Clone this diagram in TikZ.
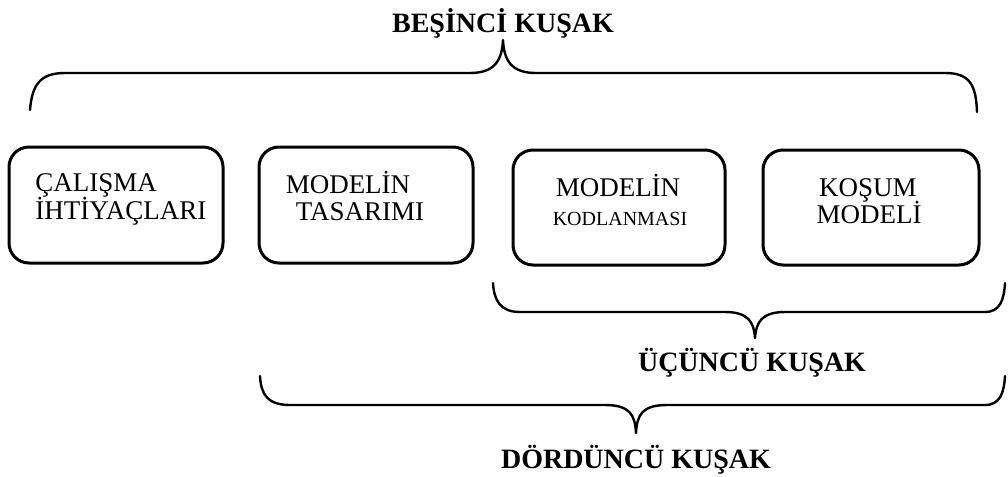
\documentclass[tikz,border=0pt]{standalone}
\usepackage{fontspec}
\setmainfont{Liberation Serif}
\begin{document}
\begin{tikzpicture}[x=0.5pt,y=-0.5pt,
  stage/.style={draw=black, line width=1.5pt, rounded corners=10pt},
  boxtext/.style={anchor=base, inner sep=0pt, font=\fontsize{13.5}{16}\selectfont},
  smalltext/.style={anchor=base, inner sep=0pt, font=\fontsize{10}{12}\selectfont},
  kusak/.style={anchor=base, inner sep=0pt, font=\bfseries\fontsize{14}{16}\selectfont},
  brace/.style={draw=black, line width=1.2pt, line cap=round, line join=round}]
\useasboundingbox (0,0) rectangle (1008,477);

% the four stages
\draw[stage] (9,147) rectangle (223,263);
\draw[stage] (259,147) rectangle (473,263);
\draw[stage] (513,150) rectangle (725,265);
\draw[stage] (763,150) rectangle (979,265);

\node[boxtext, anchor=base west] (c1a) at (35,191) {ÇALIŞMA};
\node[boxtext, anchor=base west] (c1b) at (35,219) {İHTİYAÇLARI};
\node[boxtext] (c2a) at (348,193) {MODELİN};
\node[boxtext] (c2b) at (360,220) {TASARIMI};
\node[boxtext] (c3a) at (618,196) {MODELİN};
\node[smalltext] (c3b) at (620,225) {KODLANMASI};
\node[boxtext] (c4a) at (868,196) {KOŞUM};
\node[boxtext] (c4b) at (869,223) {MODELİ};

% fifth generation: all four stages
\node[kusak] (k5) at (503,32) {BEŞİNCİ KUŞAK};
\draw[brace] (30,110) .. controls (32,85) and (40,73) .. (65,73) -- (470,73)
  .. controls (495,73) and (502,60) .. (503,40)
  .. controls (504,60) and (511,73) .. (536,73) -- (945,73)
  .. controls (970,73) and (976,85) .. (977,112);

% third generation: coding and run model
\draw[brace] (493,283) .. controls (494,300) and (500,312) .. (520,312) -- (725,312)
  .. controls (748,312) and (754,322) .. (755,338)
  .. controls (756,322) and (762,312) .. (785,312) -- (985,312)
  .. controls (1000,312) and (1004,300) .. (1005,283);
\node[kusak] (k3) at (752,371) {ÜÇÜNCÜ KUŞAK};

% fourth generation: design, coding and run model
\draw[brace] (260,376) .. controls (261,395) and (268,405) .. (290,405) -- (605,405)
  .. controls (630,405) and (635,415) .. (636,433)
  .. controls (637,415) and (642,405) .. (667,405) -- (985,405)
  .. controls (1000,405) and (1004,393) .. (1005,376);
\node[kusak] (k4) at (636,468) {DÖRDÜNCÜ KUŞAK};
\end{tikzpicture}
\end{document}
